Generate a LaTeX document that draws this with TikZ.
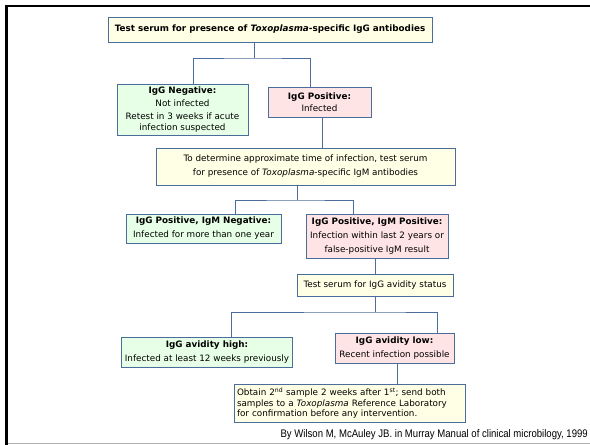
\documentclass[tikz,border=0pt]{standalone}
\usepackage{fontspec}
\setmainfont{DejaVu Sans}
\newfontfamily\creditfont[FakeStretch=0.87]{Liberation Sans}

\definecolor{edgeblue}{HTML}{4A6D9C}
\definecolor{boxyellow}{HTML}{FFFFE6}
\definecolor{boxgreen}{HTML}{E6FFE6}
\definecolor{boxpink}{HTML}{FFE4E6}

\tikzset{
    box/.style={draw=edgeblue, line width=0.8pt, inner sep=3pt, align=center,
        font=\fontsize{8.8}{14}\selectfont},
    ybox/.style={box, fill=boxyellow},
    gbox/.style={box, fill=boxgreen},
    pbox/.style={box, fill=boxpink},
    link/.style={edgeblue, line width=0.8pt},
}

\begin{document}
\begin{tikzpicture}[x=1pt,y=-1pt]

\useasboundingbox (0,0) rectangle (590,445);

% slide frame
\draw[line width=2.5pt] (5,6) -- (590,6);
\draw[line width=2.5pt] (6.5,5) -- (6.5,445);
\draw[black!30, line width=1pt] (8,443.5) -- (590,443.5);

\node[ybox, minimum width=324, minimum height=25] (igg) at (270,29.5)
    {\textbf{Test serum for presence of \textit{Toxoplasma}-specific IgG antibodies}};

\node[gbox, minimum width=131, minimum height=50] (neg) at (182.5,110)
    {\textbf{IgG Negative:}\\[-1pt] Not infected\\[-1pt] Retest in 3 weeks if acute\\[-3pt] infection suspected};
\node[pbox, minimum width=103, minimum height=30] (pos) at (319.5,102)
    {\textbf{IgG Positive:}\\[-2pt] Infected};

\node[ybox, minimum width=299, minimum height=37] (igm) at (305.5,166.5)
    {To determine approximate time of infection, test serum\\
     for presence of \textit{Toxoplasma}-specific IgM antibodies};

\node[gbox, minimum width=155, minimum height=29] (ggm) at (203.5,228.5)
    {\textbf{IgG Positive, IgM Negative:}\\ Infected for more than one year};
\node[pbox, minimum width=142, minimum height=44] (gpm) at (377,236)
    {\textbf{IgG Positive, IgM Positive:}\\ Infection within last 2 years or\\ false-positive IgM result};

\node[ybox, minimum width=156, minimum height=22] (avid) at (375,285)
    {Test serum for IgG avidity status};

\node[gbox, minimum width=170, minimum height=30] (high) at (207,352)
    {\textbf{IgG avidity high:}\\ Infected at least 12 weeks previously};
\node[pbox, minimum width=119, minimum height=30] (low) at (394.5,348)
    {\textbf{IgG avidity low:}\\ Recent infection possible};

\node[ybox, text width=225, align=left, minimum height=38,
      font=\fontsize{8.8}{10.5}\selectfont] (obtain) at (349.5,403)
    {Obtain 2\textsuperscript{nd} sample 2 weeks after 1\textsuperscript{st}; send both\\
     samples to a \textit{Toxoplasma} Reference Laboratory\\
     for confirmation before any intervention.};

\node[anchor=base east, inner sep=0pt, font=\creditfont\fontsize{11}{13}\selectfont] (credit) at (588,437)
    {By Wilson M, McAuley JB. in Murray Manual of clinical microbilogy, 1999};

% connectors
\coordinate (j1) at (254,58);
\draw[link] (j1 |- igg.south) -- (j1);
\draw[link] ([xshift=10.5]neg.north) |- (j1) -| ([xshift=-9.5]pos.north);

\coordinate (s1) at ([xshift=2.5]pos.south);
\draw[link] (s1) -- (s1 |- igm.north);

\coordinate (j2) at (297,200);
\draw[link] (j2 |- igm.south) -- (j2);
\draw[link] ([xshift=31.5]ggm.north) |- (j2) -| ([xshift=-24]gpm.north);

\coordinate (s2) at ([xshift=-2]gpm.south);
\draw[link] (s2) -- (s2 |- avid.north);

\coordinate (j3) at (375,312);
\draw[link] (avid.south) -- (j3);
\draw[link] ([xshift=24]high.north) |- (j3) -| ([xshift=42.5]low.north);

\coordinate (s3) at ([xshift=2.5]low.south);
\draw[link] (s3) -- (s3 |- obtain.north);

\end{tikzpicture}
\end{document}
